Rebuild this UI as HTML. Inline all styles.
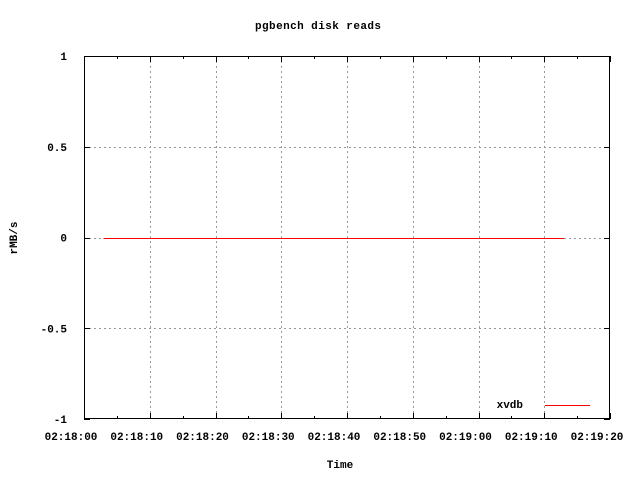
<!DOCTYPE html>
<html><head><meta charset="utf-8"><style>
body{margin:0;background:#fff}
svg text{font-family:"Liberation Mono",monospace;font-size:11px;font-weight:bold;fill:#000}
</style></head><body>
<svg id="chart" width="640" height="480">
<rect width="640" height="480" fill="#fff"/>
<text x="318" y="29" text-anchor="middle" textLength="126">pgbench disk reads</text>
<text x="17" y="238" text-anchor="middle" transform="rotate(-90 17 238)">rMB/s</text>
<text x="340" y="468" text-anchor="middle">Time</text>
<g id="grid"></g><g id="axes"></g><g id="series"></g>
<text x="523" y="408" text-anchor="end">xvdb</text>
<line x1="545" y1="405.5" x2="590" y2="405.5" stroke="#f00" stroke-width="1" shape-rendering="crispEdges"/>
</svg>
<script>
const xTicks=[0,10,20,30,40,50,60,70,80];
const xTickLabels=["02:18:00","02:18:10","02:18:20","02:18:30","02:18:40","02:18:50","02:19:00","02:19:10","02:19:20"];
const yTicks=[-1,-0.5,0,0.5,1];
const yTickLabels=["-1","-0.5","0","0.5","1"];
const times=[3,8,13,18,23,28,33,38,43,48,53,58,63,68,73];
const reads=[0,0,0,0,0,0,0,0,0,0,0,0,0,0,0];
const L=84,R=610,T=56,B=419;
const sx=v=>L+(v-0)/80*(R-L);
const sy=v=>B-(v+1)/2*(B-T);
const NS="http://www.w3.org/2000/svg";
function mk(tag,attrs,parent){const e=document.createElementNS(NS,tag);for(const k in attrs)e.setAttribute(k,attrs[k]);parent.appendChild(e);return e;}
const grid=document.getElementById('grid'),axes=document.getElementById('axes'),series=document.getElementById('series');
xTicks.forEach((t,i)=>{const x=Math.round(sx(t))+0.5;
 if(i>0&&i<xTicks.length-1){const g=mk('line',{x1:x,x2:x,y1:T,y2:B,stroke:'#999','stroke-dasharray':'2,3','shape-rendering':'crispEdges'},grid);
 
 }
 mk('line',{x1:x,x2:x,y1:B,y2:B-6,stroke:'#000','shape-rendering':'crispEdges'},axes);
 mk('line',{x1:x,x2:x,y1:T,y2:T+6,stroke:'#000','shape-rendering':'crispEdges'},axes);
 if(i<xTicks.length-1){const xm=Math.round(sx(t+5))+0.5;mk('line',{x1:xm,x2:xm,y1:B,y2:B-3,stroke:'#000','shape-rendering':'crispEdges'},axes);mk('line',{x1:xm,x2:xm,y1:T,y2:T+3,stroke:'#000','shape-rendering':'crispEdges'},axes);}
 const tx=mk('text',{x:sx(t)-13,y:B+21,'text-anchor':'middle'},axes);tx.textContent=xTickLabels[i];
 
 
});
yTicks.forEach((t,i)=>{const y=Math.round(sy(t))+0.5;
 if(i>0&&i<yTicks.length-1){const g=mk('line',{x1:L,x2:R,y1:y,y2:y,stroke:'#999','stroke-dasharray':'2,3','shape-rendering':'crispEdges'},grid);
 
 }
 mk('line',{x1:L,x2:L+6,y1:y,y2:y,stroke:'#000','shape-rendering':'crispEdges'},axes);
 mk('line',{x1:R,x2:R-6,y1:y,y2:y,stroke:'#000','shape-rendering':'crispEdges'},axes);
 const tx=mk('text',{x:67,y:sy(t)+4,'text-anchor':'end'},axes);tx.textContent=yTickLabels[i];
 
 
});
const box=mk('rect',{x:L+0.5,y:T+0.5,width:R-L-1,height:B-T-1,fill:'none',stroke:'#000','shape-rendering':'crispEdges'},axes);


const pts=times.map((t,i)=>sx(t)+','+(Math.round(sy(reads[i]))+0.5)).join(' ');
const pl=mk('polyline',{points:pts,fill:'none',stroke:'#ff0000','stroke-width':1,'shape-rendering':'crispEdges'},series);


</script>
</body></html>
